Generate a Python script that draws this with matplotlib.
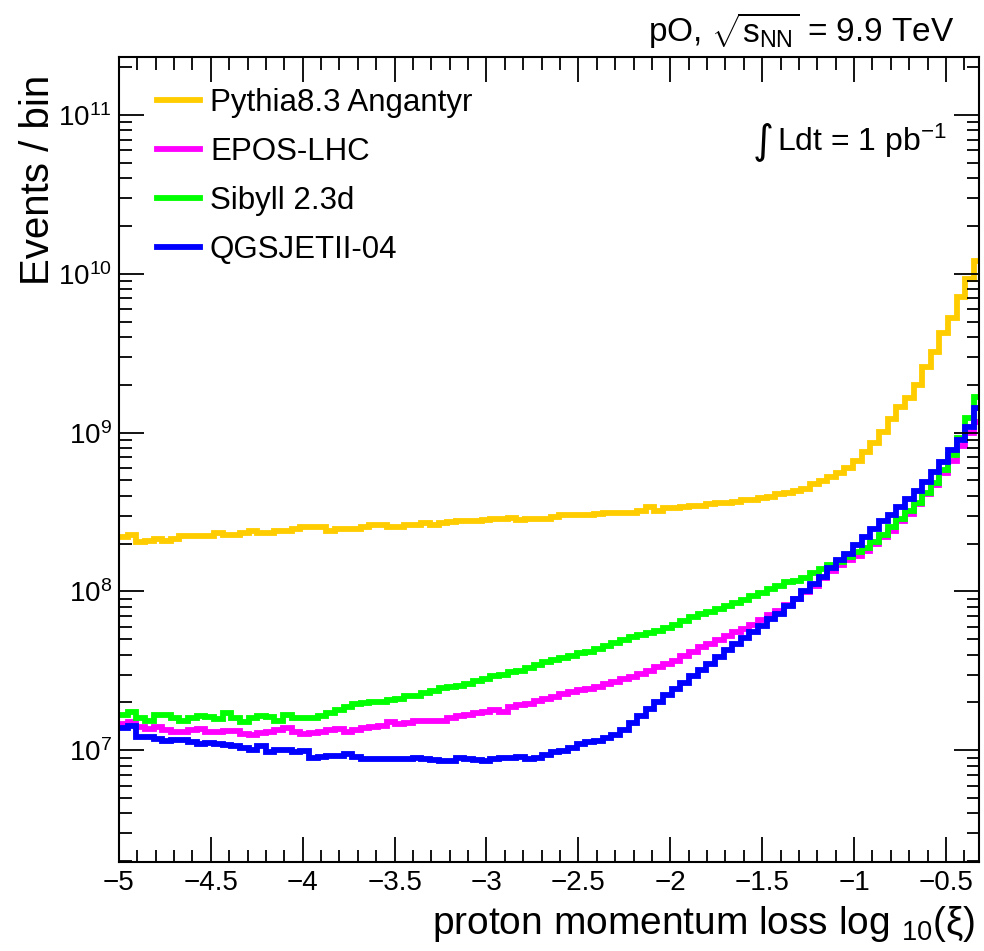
import numpy as np
import matplotlib
matplotlib.use("Agg")
import matplotlib.pyplot as plt
from matplotlib.lines import Line2D
from matplotlib.ticker import MultipleLocator, FixedLocator, FixedFormatter, LogLocator

plt.rcParams['font.family'] = ['Liberation Sans', 'DejaVu Sans']
plt.rcParams['mathtext.fontset'] = 'custom'
plt.rcParams['mathtext.rm'] = 'Liberation Sans'
plt.rcParams['mathtext.it'] = 'Liberation Sans:italic'
plt.rcParams['mathtext.bf'] = 'Liberation Sans:bold'

# histogram binning: log10(xi) from -5 to -0.3
x_min, x_max, n_bins = -5.0, -0.3, 100

pythia = [
    2.19e8, 2.28e8, 2.06e8, 2.09e8, 2.15e8, 2.09e8, 2.13e8, 2.22e8, 2.25e8, 2.22e8,
    2.22e8, 2.32e8, 2.28e8, 2.28e8, 2.35e8, 2.39e8, 2.35e8, 2.32e8, 2.42e8, 2.42e8,
    2.46e8, 2.53e8, 2.53e8, 2.53e8, 2.42e8, 2.49e8, 2.49e8, 2.46e8, 2.56e8, 2.64e8,
    2.64e8, 2.53e8, 2.56e8, 2.64e8, 2.64e8, 2.68e8, 2.64e8, 2.68e8, 2.72e8, 2.76e8,
    2.76e8, 2.76e8, 2.80e8, 2.84e8, 2.88e8, 2.92e8, 2.80e8, 2.88e8, 2.88e8, 2.88e8,
    2.96e8, 3.01e8, 3.01e8, 3.05e8, 3.05e8, 3.09e8, 3.14e8, 3.14e8, 3.14e8, 3.14e8,
    3.19e8, 3.38e8, 3.23e8, 3.33e8, 3.33e8, 3.38e8, 3.43e8, 3.47e8, 3.53e8, 3.58e8,
    3.63e8, 3.68e8, 3.74e8, 3.79e8, 3.90e8, 3.96e8, 4.08e8, 4.19e8, 4.32e8, 4.44e8,
    4.78e8, 4.99e8, 5.29e8, 5.60e8, 6.03e8, 6.67e8, 7.60e8, 8.65e8, 1.01e9, 1.21e9,
    1.44e9, 1.66e9, 2.00e9, 2.60e9, 3.23e9, 4.26e9, 5.29e9, 7.17e9, 9.30e9, 1.21e10,
]

epos = [
    1.46e7, 1.50e7, 1.40e7, 1.36e7, 1.40e7, 1.34e7, 1.30e7, 1.30e7, 1.34e7, 1.36e7,
    1.30e7, 1.30e7, 1.32e7, 1.32e7, 1.26e7, 1.24e7, 1.28e7, 1.30e7, 1.34e7, 1.38e7,
    1.30e7, 1.26e7, 1.28e7, 1.30e7, 1.34e7, 1.36e7, 1.30e7, 1.34e7, 1.38e7, 1.40e7,
    1.42e7, 1.50e7, 1.46e7, 1.48e7, 1.54e7, 1.52e7, 1.52e7, 1.52e7, 1.59e7, 1.64e7,
    1.66e7, 1.71e7, 1.73e7, 1.79e7, 1.73e7, 1.86e7, 1.92e7, 1.95e7, 2.03e7, 2.09e7,
    2.15e7, 2.25e7, 2.32e7, 2.39e7, 2.42e7, 2.49e7, 2.60e7, 2.68e7, 2.80e7, 2.88e7,
    3.01e7, 3.14e7, 3.33e7, 3.47e7, 3.63e7, 3.90e7, 4.14e7, 4.44e7, 4.64e7, 4.92e7,
    5.22e7, 5.52e7, 5.77e7, 6.11e7, 6.57e7, 7.07e7, 7.49e7, 8.17e7, 8.91e7, 9.86e7,
    1.09e8, 1.21e8, 1.34e8, 1.46e8, 1.57e8, 1.68e8, 1.81e8, 1.98e8, 2.19e8, 2.42e8,
    2.76e8, 3.09e8, 3.53e8, 4.08e8, 4.71e8, 5.60e8, 6.67e8, 8.29e8, 1.00e9, 1.17e9,
]

sibyll = [
    1.68e7, 1.73e7, 1.59e7, 1.52e7, 1.66e7, 1.66e7, 1.59e7, 1.52e7, 1.59e7, 1.64e7,
    1.61e7, 1.57e7, 1.71e7, 1.59e7, 1.50e7, 1.59e7, 1.64e7, 1.61e7, 1.52e7, 1.66e7,
    1.59e7, 1.59e7, 1.59e7, 1.64e7, 1.71e7, 1.79e7, 1.86e7, 1.95e7, 1.98e7, 2.00e7,
    2.00e7, 2.06e7, 2.09e7, 2.19e7, 2.19e7, 2.28e7, 2.35e7, 2.46e7, 2.49e7, 2.53e7,
    2.60e7, 2.72e7, 2.80e7, 2.92e7, 2.96e7, 3.09e7, 3.14e7, 3.28e7, 3.43e7, 3.58e7,
    3.68e7, 3.79e7, 3.90e7, 4.08e7, 4.14e7, 4.32e7, 4.51e7, 4.71e7, 4.92e7, 5.14e7,
    5.29e7, 5.44e7, 5.60e7, 5.85e7, 6.11e7, 6.48e7, 6.86e7, 7.17e7, 7.38e7, 7.71e7,
    8.05e7, 8.41e7, 8.78e7, 9.30e7, 9.72e7, 1.03e8, 1.09e8, 1.14e8, 1.17e8, 1.22e8,
    1.30e8, 1.38e8, 1.46e8, 1.54e8, 1.64e8, 1.76e8, 1.89e8, 2.06e8, 2.28e8, 2.53e8,
    2.84e8, 3.23e8, 3.63e8, 4.19e8, 4.85e8, 5.85e8, 7.27e8, 9.30e8, 1.24e9, 1.68e9,
]

qgsjet = [
    1.38e7, 1.42e7, 1.22e7, 1.21e7, 1.17e7, 1.14e7, 1.16e7, 1.16e7, 1.12e7, 1.09e7,
    1.11e7, 1.09e7, 1.08e7, 1.06e7, 1.03e7, 1.00e7, 1.06e7, 9.71e6, 1.00e7, 1.01e7,
    9.71e6, 9.86e6, 8.90e6, 9.04e6, 9.17e6, 9.17e6, 9.44e6, 9.04e6, 8.77e6, 8.77e6,
    8.77e6, 8.77e6, 8.77e6, 8.77e6, 8.90e6, 8.77e6, 8.65e6, 8.53e6, 8.53e6, 8.90e6,
    8.77e6, 8.65e6, 8.53e6, 8.77e6, 8.90e6, 8.90e6, 9.04e6, 8.77e6, 8.90e6, 9.30e6,
    9.71e6, 9.86e6, 1.03e7, 1.09e7, 1.12e7, 1.14e7, 1.19e7, 1.24e7, 1.34e7, 1.48e7,
    1.64e7, 1.81e7, 2.00e7, 2.22e7, 2.42e7, 2.64e7, 2.92e7, 3.19e7, 3.47e7, 3.84e7,
    4.26e7, 4.64e7, 5.06e7, 5.52e7, 6.03e7, 6.67e7, 7.17e7, 8.05e7, 8.91e7, 1.00e8,
    1.12e8, 1.24e8, 1.40e8, 1.57e8, 1.73e8, 1.95e8, 2.19e8, 2.46e8, 2.76e8, 3.05e8,
    3.38e8, 3.84e8, 4.32e8, 4.92e8, 5.69e8, 6.57e8, 7.83e8, 9.04e8, 1.09e9, 1.42e9,
]

series = [
    ("Pythia8.3 Angantyr", pythia, "#ffcc00"),
    ("EPOS-LHC", epos, "#ff00ff"),
    ("Sibyll 2.3d", sibyll, "#00ff00"),
    ("QGSJETII-04", qgsjet, "#0000ff"),
]

xticks = [-5, -4.5, -4, -3.5, -3, -2.5, -2, -1.5, -1, -0.5]
xtick_labels = ["\u22125", "\u22124.5", "\u22124", "\u22123.5", "\u22123",
                "\u22122.5", "\u22122", "\u22121.5", "\u22121", "\u22120.5"]

fig = plt.figure(figsize=(9.84, 9.51), dpi=100)
ax = fig.add_axes([0.1209, 0.0936, 0.874, 0.8465])

edges = np.linspace(x_min, x_max, n_bins + 1)
handles = []
for name, vals, col in series:
    ax.stairs(vals, edges, color=col, linewidth=4.2, baseline=None)
    handles.append(Line2D([0], [0], color=col, linewidth=4.2, label=name))

ax.set_yscale('log')
ax.set_xlim(-5, -0.32)
ax.set_ylim(1.98e6, 2.32e11)

ax.xaxis.set_major_locator(FixedLocator(xticks))
ax.xaxis.set_major_formatter(FixedFormatter(xtick_labels))
ax.xaxis.set_minor_locator(MultipleLocator(0.1))
ax.yaxis.set_minor_locator(LogLocator(base=10, subs=np.arange(2, 10)))

ax.tick_params(which='both', direction='in', top=True, right=True, width=1.3,
               labelsize=20)
ax.tick_params(which='major', length=18)
ax.tick_params(which='minor', length=9)
ax.tick_params(axis='x', pad=6)
ax.tick_params(axis='y', pad=5)
for s in ax.spines.values():
    s.set_linewidth(1.5)

leg = ax.legend(handles=handles, loc='upper left', bbox_to_anchor=(0.044, 0.961),
                frameon=False, fontsize=22.5, handlelength=1.38, handletextpad=0.32,
                labelspacing=0.6, borderpad=0, borderaxespad=0)

# integrated luminosity
fig.text(763 / 984, 1 - 141 / 951, "\u222b", ha='center', va='center',
         fontsize=29, family='DejaVu Sans')
fig.text(947 / 984, 1 - 141 / 951, r"Ldt = 1 pb$^{-1}$",
         ha='right', va='center', fontsize=23)

fig.text(955 / 984, 1 - 31 / 951, r"pO, $\sqrt{\mathrm{s}_{\mathrm{NN}}}$ = 9.9 TeV",
         ha='right', va='center', fontsize=24)

fig.text(975 / 984, 1 - 934 / 951, r"proton momentum loss log $_{10}$(ξ)",
         ha='right', va='baseline', fontsize=28)
fig.text(38 / 984, 1 - 75 / 951, "Events / bin", rotation=90,
         ha='center', va='top', fontsize=29)

fig.savefig("out.png", dpi=100)
